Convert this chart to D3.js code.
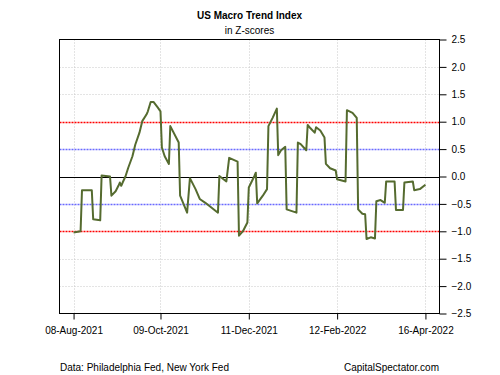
<!DOCTYPE html>
<html>
<head>
<meta charset="utf-8">
<script src="https://cdn.jsdelivr.net/npm/d3@7"></script>
<style>
  body { margin: 0; background: #fff; }
  svg { font-family: "Liberation Sans", Arial, sans-serif; }
</style>
</head>
<body>
<svg id="chart"></svg>
<script>
const width = 500;
const height = 375;

// index readings (date, z-score)
const dates = [
  "2021-08-08", "2021-08-13", "2021-08-14", "2021-08-21", "2021-08-22", "2021-08-27",
  "2021-08-28", "2021-09-03", "2021-09-04", "2021-09-07", "2021-09-09", "2021-09-10",
  "2021-09-11", "2021-09-12", "2021-09-14", "2021-09-16", "2021-09-19", "2021-09-21",
  "2021-09-24", "2021-09-26", "2021-09-29", "2021-09-30", "2021-10-02", "2021-10-04",
  "2021-10-07", "2021-10-09", "2021-10-10", "2021-10-12", "2021-10-15", "2021-10-16",
  "2021-10-22", "2021-10-23", "2021-10-28", "2021-10-30", "2021-11-03", "2021-11-06",
  "2021-11-10", "2021-11-19", "2021-11-20", "2021-11-25", "2021-11-27", "2021-12-03",
  "2021-12-04", "2021-12-07", "2021-12-10", "2021-12-11", "2021-12-15", "2021-12-16",
  "2021-12-17", "2021-12-21", "2021-12-24", "2021-12-25", "2021-12-28", "2021-12-31",
  "2022-01-01", "2022-01-03", "2022-01-06", "2022-01-07", "2022-01-14", "2022-01-15",
  "2022-01-17", "2022-01-21", "2022-01-22", "2022-01-24", "2022-01-27", "2022-01-28",
  "2022-01-31", "2022-02-03", "2022-02-04", "2022-02-07", "2022-02-11", "2022-02-12",
  "2022-02-18", "2022-02-19", "2022-02-23", "2022-02-26", "2022-02-27", "2022-03-02",
  "2022-03-04", "2022-03-05", "2022-03-08", "2022-03-11", "2022-03-12", "2022-03-15",
  "2022-03-18", "2022-03-19", "2022-03-25", "2022-03-26", "2022-03-31", "2022-04-01",
  "2022-04-07", "2022-04-08", "2022-04-12", "2022-04-16"
];
const values = [
  -1.02, -1.00, -0.25, -0.25, -0.78, -0.80,
  0.02, 0.00, -0.35, -0.27, -0.17, -0.11,
  -0.17, -0.11, 0.00, 0.16, 0.37, 0.58,
  0.80, 1.01, 1.13, 1.19, 1.36, 1.36,
  1.26, 1.19, 0.53, 0.37, 0.23, 0.92,
  0.62, -0.35, -0.66, -0.03, -0.23, -0.41,
  -0.48, -0.66, 0.01, -0.09, 0.34, 0.27,
  -1.08, -0.99, -0.84, -0.20, 0.01, 0.07,
  -0.49, -0.35, -0.23, 0.92, 1.07, 1.24,
  0.39, 0.48, 0.54, -0.60, -0.66, 0.62,
  0.59, 0.48, 0.94, 0.88, 0.80, 0.90,
  0.84, 0.71, 0.23, 0.15, 0.11, -0.05,
  -0.09, 1.21, 1.16, 1.07, -0.60, -0.68,
  -0.69, -1.14, -1.11, -1.13, -0.45, -0.43,
  -0.48, -0.09, -0.09, -0.61, -0.61, -0.11,
  -0.09, -0.25, -0.23, -0.15
];

const xTickDates = ["2021-08-08", "2021-10-09", "2021-12-11", "2022-02-12", "2022-04-16"];
const yTicks = [-2.5, -2.0, -1.5, -1.0, -0.5, 0.0, 0.5, 1.0, 1.5, 2.0, 2.5];
const redLevels = [1, -1];
const blueLevels = [0.5, -0.5];

const parseDate = d3.timeParse("%Y-%m-%d");
const series = dates.map((d, i) => ({ date: parseDate(d), value: values[i] }));

const plot = { left: 59.5, right: 439.5, top: 39.5, bottom: 313.5 };

const svg = d3.select("#chart").attr("width", width).attr("height", height);

// R style 4% padding on the time axis
const ext = d3.extent(series, (d) => d.date);
const pad = (ext[1] - ext[0]) * 0.04;
const x = d3
  .scaleTime()
  .domain([new Date(+ext[0] - pad), new Date(+ext[1] + pad)])
  .range([plot.left, plot.right]);

const y = d3.scaleLinear().domain([-2.5, 2.5]).range([plot.bottom, plot.top]);

// grid
svg
  .append("g")
  .selectAll("line")
  .data(xTickDates.map(parseDate))
  .enter()
  .append("line")
  .attr("x1", (d) => Math.round(x(d)) + 0.5)
  .attr("x2", (d) => Math.round(x(d)) + 0.5)
  .attr("y1", plot.top)
  .attr("y2", plot.bottom)
  .attr("stroke", "#c8c8c8")
  .attr("stroke-dasharray", "1,2");

svg
  .append("g")
  .selectAll("line")
  .data(yTicks.filter((d) => Math.abs(d) !== 2.5 && Math.abs(d) !== 1 && Math.abs(d) !== 0.5 && d !== 0))
  .enter()
  .append("line")
  .attr("x1", plot.left)
  .attr("x2", plot.right)
  .attr("y1", (d) => Math.round(y(d)) + 0.5)
  .attr("y2", (d) => Math.round(y(d)) + 0.5)
  .attr("stroke", "#c8c8c8")
  .attr("stroke-dasharray", "1,2");

function levelLines(levels, color) {
  svg
    .append("g")
    .selectAll("line")
    .data(levels)
    .enter()
    .append("line")
    .attr("x1", plot.left)
    .attr("x2", plot.right)
    .attr("y1", (d) => Math.round(y(d)) + 0.5)
    .attr("y2", (d) => Math.round(y(d)) + 0.5)
    .attr("stroke", color)
    .attr("stroke-width", 1.3)
    .attr("stroke-dasharray", "2,1");
}
levelLines(redLevels, "#ff0000");
levelLines(blueLevels, "#6a6aff");

svg
  .append("line")
  .attr("x1", plot.left)
  .attr("x2", plot.right)
  .attr("y1", Math.round(y(0)) + 0.5)
  .attr("y2", Math.round(y(0)) + 0.5)
  .attr("stroke", "#000");

// the index line
const line = d3
  .line()
  .x((d) => x(d.date))
  .y((d) => y(d.value));

svg
  .append("path")
  .datum(series)
  .attr("d", line)
  .attr("fill", "none")
  .attr("stroke", "#556b2f")
  .attr("stroke-width", 2)
  .attr("stroke-linejoin", "round");

// box
svg
  .append("rect")
  .attr("x", plot.left)
  .attr("y", plot.top)
  .attr("width", plot.right - plot.left)
  .attr("height", plot.bottom - plot.top)
  .attr("fill", "none")
  .attr("stroke", "#000");

// axes
const xAxis = d3
  .axisBottom(x)
  .tickValues(xTickDates.map(parseDate))
  .tickFormat(d3.timeFormat("%d-%b-%Y"))
  .tickSize(6)
  .tickSizeOuter(0)
  .tickPadding(7);

svg
  .append("g")
  .attr("transform", `translate(0,${plot.bottom})`)
  .call(xAxis)
  .call((g) => g.select(".domain").remove())
  .call((g) => g.selectAll("text").attr("font-size", 10).attr("fill", "#000").attr("font-family", null));

const yAxis = d3
  .axisRight(y)
  .tickValues(yTicks)
  .tickFormat(d3.format(".1f"))
  .tickSize(7)
  .tickSizeOuter(0)
  .tickPadding(5);

svg
  .append("g")
  .attr("transform", `translate(${plot.right},0)`)
  .call(yAxis)
  .call((g) => g.select(".domain").remove())
  .call((g) => g.selectAll("text").attr("font-size", 10).attr("fill", "#000").attr("font-family", null));

// titles
svg
  .append("text")
  .attr("x", (plot.left + plot.right) / 2)
  .attr("y", 19)
  .attr("text-anchor", "middle")
  .attr("font-size", 10)
  .attr("font-weight", "bold")
  .text("US Macro Trend Index");

svg
  .append("text")
  .attr("x", (plot.left + plot.right) / 2)
  .attr("y", 34)
  .attr("text-anchor", "middle")
  .attr("font-size", 10)
  .text("in Z-scores");

svg
  .append("text")
  .attr("x", 60)
  .attr("y", 371)
  .attr("font-size", 10)
  .text("Data: Philadelphia Fed, New York Fed");

svg
  .append("text")
  .attr("x", 439)
  .attr("y", 371)
  .attr("text-anchor", "end")
  .attr("font-size", 10)
  .text("CapitalSpectator.com");
</script>
</body>
</html>
